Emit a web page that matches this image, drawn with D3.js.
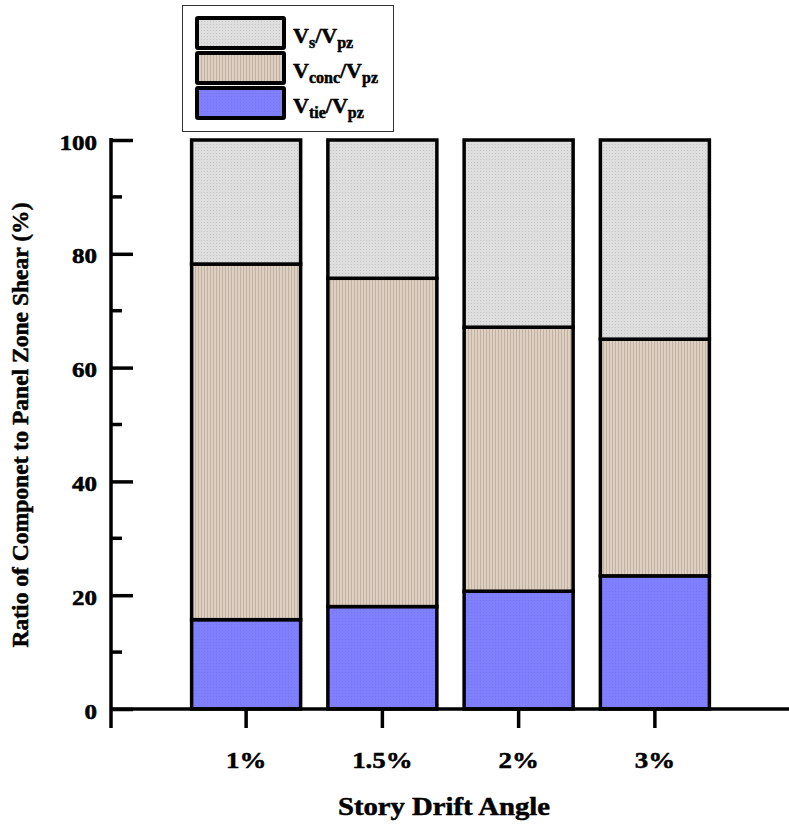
<!DOCTYPE html>
<html><head><meta charset="utf-8">
<script src="https://cdn.jsdelivr.net/npm/d3@7"></script>
<style>body{margin:0;background:#fff}svg{display:block}text{font-family:"Liberation Serif","Times New Roman",serif;font-weight:bold;fill:#000;stroke:#000;stroke-width:0.5px}</style>
</head><body>
<script>
const categories = ["1%", "1.5%", "2%", "3%"];
const tieValues = [15.7, 18.0, 20.7, 23.4];
const concValues = [62.5, 57.7, 46.4, 41.6];
const sValues = [21.8, 24.3, 32.9, 35.0];
const yTicks = [0, 20, 40, 60, 80, 100];
const seriesKeys = ["tie", "conc", "s"];

const W = 789, H = 828;
const svg = d3.select("body").append("svg").attr("width", W).attr("height", H);
const defs = svg.append("defs");
const pS = defs.append("pattern").attr("id","pS").attr("width",3).attr("height",3).attr("patternUnits","userSpaceOnUse");
pS.append("rect").attr("width",3).attr("height",3).attr("fill","#dedede");
pS.append("rect").attr("width",1).attr("height",1).attr("fill","#c4c4c4");
const pC = defs.append("pattern").attr("id","pC").attr("width",3).attr("height",3).attr("patternUnits","userSpaceOnUse");
pC.append("rect").attr("width",3).attr("height",3).attr("fill","#ddd0c2");
pC.append("rect").attr("width",1).attr("height",3).attr("fill","#c2b2a2");
const pT = defs.append("pattern").attr("id","pT").attr("width",3).attr("height",3).attr("patternUnits","userSpaceOnUse");
pT.append("rect").attr("width",3).attr("height",3).attr("fill","#8080ff");
pT.append("rect").attr("width",1).attr("height",1).attr("fill","#7777f0");
const fills = {tie:"url(#pT)", conc:"url(#pC)", s:"url(#pS)"};

function stretch(sel, f){
  sel.each(function(){
    const n = this.getComputedTextLength();
    d3.select(this).attr("textLength", n*f).attr("lengthAdjust","spacingAndGlyphs");
  });
}

const x0 = 111, y0 = 709, yTop = 140;
const y = d3.scaleLinear().domain([0,100]).range([y0, yTop]);
const x = d3.scaleBand().domain(categories).range([178, 723]).paddingInner(0.2).paddingOuter(0.1);

const rows = categories.map((c,i)=>({cat:c, tie:tieValues[i], conc:concValues[i], s:sValues[i]}));
const stacked = d3.stack().keys(seriesKeys)(rows);

const g = svg.append("g");
stacked.forEach(layer=>{
  g.selectAll(null).data(layer).enter().append("rect")
    .attr("x", d=>x(d.data.cat))
    .attr("width", x.bandwidth())
    .attr("y", d=>y(d[1]))
    .attr("height", d=>y(d[0])-y(d[1]))
    .attr("fill", fills[layer.key])
    .attr("stroke","#000").attr("stroke-width",3.5);
});

// y axis
const yAxis = d3.axisLeft(y).tickValues(yTicks).tickSize(-22).tickPadding(14).tickFormat(d3.format("d"));
const ya = svg.append("g").attr("transform",`translate(${x0},0)`).call(yAxis);
ya.select(".domain").remove();
ya.selectAll(".tick line").attr("stroke","#000").attr("stroke-width",3.5);
ya.selectAll(".tick text").style("font-size","20px").attr("dy","0.45em").call(stretch, 1.25);
svg.append("g").selectAll("line").data([10,30,50,70,90]).enter().append("line")
  .attr("x1",x0).attr("x2",x0+11).attr("y1",d=>y(d)).attr("y2",d=>y(d))
  .attr("stroke","#000").attr("stroke-width",3.5);
svg.append("line").attr("x1",x0).attr("x2",x0).attr("y1",yTop-2).attr("y2",y0+19)
  .attr("stroke","#000").attr("stroke-width",3.5);

// x axis
const xAxis = d3.axisBottom(x).tickSize(19).tickPadding(0);
const xa = svg.append("g").attr("transform",`translate(0,${y0})`).call(xAxis);
xa.select(".domain").remove();
xa.selectAll(".tick line").attr("stroke","#000").attr("stroke-width",3.5);
xa.selectAll(".tick text").attr("y",59).attr("dy",null).style("font-size","24px").call(stretch, 1.12);
svg.append("line").attr("x1",x0).attr("x2",W).attr("y1",y0).attr("y2",y0)
  .attr("stroke","#000").attr("stroke-width",3.5);

// titles
svg.append("text").attr("x",444).attr("y",815).attr("text-anchor","middle").style("font-size","25px")
  .text("Story Drift Angle").attr("textLength",212).attr("lengthAdjust","spacingAndGlyphs");
svg.append("text").attr("transform","translate(28,425) rotate(-90)").attr("text-anchor","middle").style("font-size","24px")
  .text("Ratio of Componet to Panel Zone Shear (%)").attr("textLength",445).attr("lengthAdjust","spacingAndGlyphs");

// legend
const lg = svg.append("g");
lg.append("rect").attr("x",182.5).attr("y",5.5).attr("width",211).attr("height",126).attr("fill","#fff").attr("stroke","#333").attr("stroke-width",1);
const legendItems = [
  {key:"s", sub:"s"},
  {key:"conc", sub:"conc"},
  {key:"tie", sub:"tie"}
];
legendItems.forEach((it,i)=>{
  const yy = 18 + i*35;
  lg.append("rect").attr("x",197).attr("y",yy).attr("width",87).attr("height",30)
    .attr("fill",fills[it.key]).attr("stroke","#000").attr("stroke-width",4).attr("rx",1);
  const t = lg.append("text").attr("x",293).attr("y",yy+25).style("font-size","22px");
  t.append("tspan").text("V");
  t.append("tspan").attr("dy",5).style("font-size","16px").text(it.sub);
  t.append("tspan").attr("dy",-5).text("/V");
  t.append("tspan").attr("dy",5).style("font-size","16px").text("pz");
});
</script>
</body></html>
